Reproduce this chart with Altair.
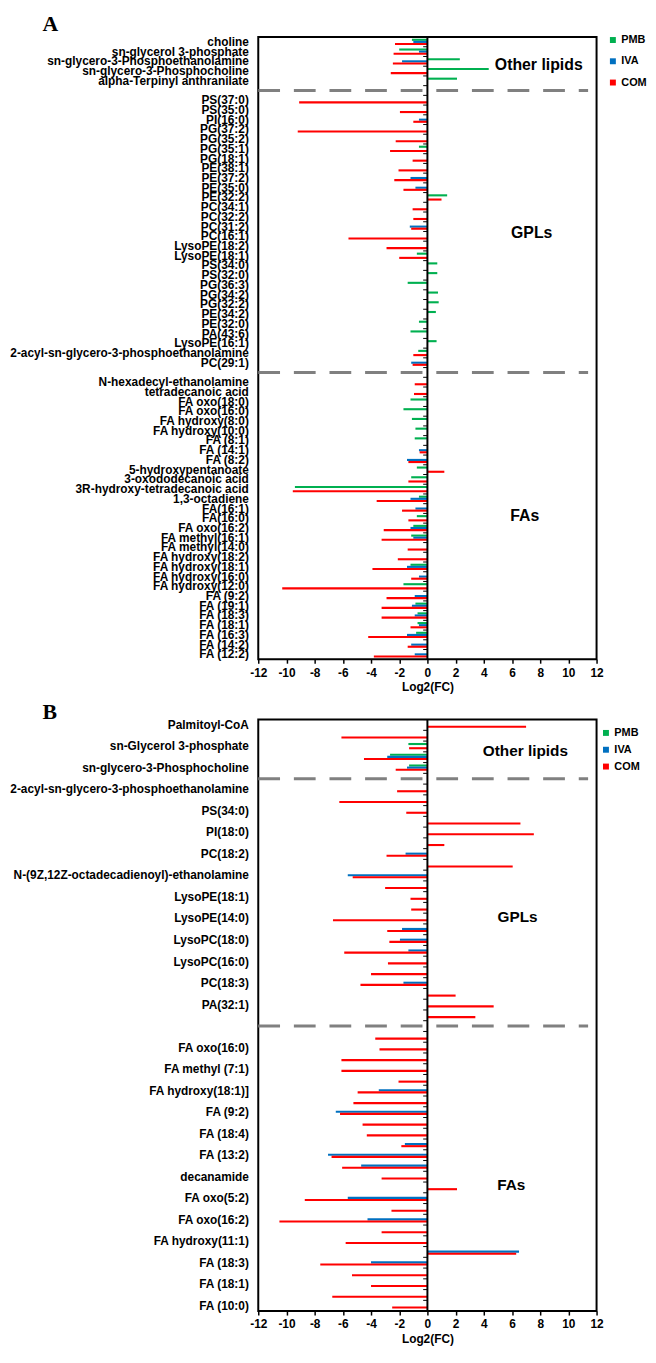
import altair as alt
import pandas as pd

SERIES = ["PMB", "IVA", "COM"]
COLORS = ["#00B050", "#0070C0", "#FF0000"]

# ---------------- Panel A ----------------
A_labels = [
    "choline", "sn-glycerol 3-phosphate", "sn-glycero-3-Phosphoethanolamine",
    "sn-glycero-3-Phosphocholine", "alpha-Terpinyl anthranilate",
    "",
    "PS(37:0)", "PS(35:0)", "PI(16:0)", "PG(37:2)", "PG(35:2)", "PG(35:1)", "PG(18:1)",
    "PE(38:1)", "PE(37:2)", "PE(35:0)", "PE(32:2)", "PC(34:1)", "PC(32:2)", "PC(31:2)",
    "PC(16:1)", "LysoPE(18:2)", "LysoPE(18:1)", "PS(34:0)", "PS(32:0)", "PG(36:3)",
    "PG(34:2)", "PG(32:2)", "PE(34:2)", "PE(32:0)", "PA(43:6)", "LysoPE(16:1)",
    "2-acyl-sn-glycero-3-phosphoethanolamine", "PC(29:1)",
    "",
    "N-hexadecyl-ethanolamine", "tetradecanoic acid", "FA oxo(18:0)", "FA oxo(16:0)",
    "FA hydroxy(8:0)", "FA hydroxy(10:0)", "FA (8:1)", "FA (14:1)", "FA (8:2)",
    "5-hydroxypentanoate", "3-oxododecanoic acid", "3R-hydroxy-tetradecanoic acid",
    "1,3-octadiene", "FA(16:1)", "FA(16:0)", "FA oxo(16:2)", "FA methyl(16:1)",
    "FA methyl(14:0)", "FA hydroxy(18:2)", "FA hydroxy(18:1)", "FA hydroxy(16:0)",
    "FA hydroxy(12:0)", "FA (9:2)", "FA (19:1)", "FA (18:3)", "FA (18:1)", "FA (16:3)",
    "FA (14:2)", "FA (12:2)",
]
A_PMB = [
    -1.1, -2.0, 2.3, 4.35, 2.1,
    0,
    0, 0, 0, 0, 0, -0.6, 0, 0, 0, 0, 1.4, 0, 0, 0, 0, 0, -0.75, 0.7, 0.7, -1.4,
    0.75, 0.8, 0.6, -0.6, -1.2, 0.65, -0.65, 0,
    0,
    0, 0, -1.2, -1.7, -1.1, -0.85, -0.9, 0, 0, -0.75, -1.15, -9.4, -0.6, 0, -0.75,
    -1.0, -1.15, 0, 0, -1.2, 0, -1.7, 0, -0.85, -0.7, -0.7, -0.8, 0, 0,
]
A_IVA = [
    -1.0, -0.6, -1.8, 0, 0,
    0,
    0, 0, -0.6, 0, 0, 0, 0, 0, -1.2, -0.85, 0, 0, 0, -1.25, 0, 0, 0, 0, 0, 0,
    0, 0, 0, 0, 0, 0, 0, -1.15,
    0,
    0, 0, 0, 0, 0, 0, 0, -0.6, -1.45, 0, 0, 0, -1.2, -0.85, 0,
    -1.2, -1.0, 0, 0, -1.45, -0.6, 0, -0.9, -1.1, -0.9, -0.6, -1.45, -1.15, -0.9,
]
A_COM = [
    -2.3, -2.4, -2.45, -2.6, 0,
    0,
    -9.1, -1.95, -1.0, -9.2, -2.25, -2.65, -1.05, -2.05, -2.35, -1.7, 1.0, -1.05,
    -1.0, -1.15, -5.6, -2.9, -2.0, 0, 0, 0, 0, 0, 0, 0, 0, 0, -1.0, -1.05,
    0,
    -0.9, -0.95, 0, 0, 0, 0, 0, -0.55, -1.35, 1.2, -1.35, -9.55, -3.6, -1.8, -1.35,
    -3.1, -3.25, -1.4, -2.1, -3.9, -1.15, -10.3, -2.9, -3.25, -3.25, -1.2, -4.2, -1.4, -3.8,
]
A_SEPARATORS = [5, 34]
A_SECTIONS = ["Other lipids", "GPLs", "FAs"]

# ---------------- Panel B ----------------
B_labels = [
    "Palmitoyl-CoA", "", "sn-Glycerol 3-phosphate", "", "sn-glycero-3-Phosphocholine",
    "",
    "2-acyl-sn-glycero-3-phosphoethanolamine", "", "PS(34:0)", "", "PI(18:0)", "",
    "PC(18:2)", "", "N-(9Z,12Z-octadecadienoyl)-ethanolamine", "", "LysoPE(18:1)", "",
    "LysoPE(14:0)", "", "LysoPC(18:0)", "", "LysoPC(16:0)", "", "PC(18:3)", "",
    "PA(32:1)", "",
    "",
    "", "FA oxo(16:0)", "", "FA methyl (7:1)", "", "FA hydroxy(18:1)]", "", "FA (9:2)",
    "", "FA (18:4)", "", "FA (13:2)", "", "decanamide", "", "FA oxo(5:2)", "",
    "FA oxo(16:2)", "", "FA hydroxy(11:1)", "", "FA (18:3)", "", "FA (18:1)", "",
    "FA (10:0)",
]
B_PMB = [0, 0, -1.35, -2.65, -1.3] + [0] * 50
B_IVA = [
    0, 0, 0, -2.85, -1.45,
    0,
    0, 0, 0, 0, 0, 0, -1.55, 0, -5.65, 0, 0, 0, 0, -1.8, -1.95, -1.35, 0, 0, -1.7, 0, 0, 0,
    0,
    0, 0, 0, 0, 0, -3.45, 0, -6.5, 0, 0, -1.6, -7.05, -4.7, 0, 0, -5.65, 0, -4.25, 0, 0,
    6.5, -4.0, 0, 0, 0, 0,
]
B_COM = [
    7.0, -6.1, -1.3, -4.5, -2.25,
    0,
    -2.15, -6.25, -1.5, 6.6, 7.55, 1.2, -2.9, 6.05, -5.3, -3.0, -1.2, -1.15, -6.7,
    -2.85, -2.7, -5.9, -2.8, -4.0, -4.75, 2.0, 4.7, 3.4,
    0,
    -3.7, -3.4, -6.1, -6.1, -2.05, -4.95, -5.25, -6.2, -4.6, -4.3, -1.85, -6.8, -6.05,
    -3.25, 2.1, -8.7, -2.55, -10.5, -3.25, -5.8, 6.3, -7.6, -5.35, -4.0, -6.75, -2.5,
]
B_SEPARATORS = [5, 28]
B_SECTIONS = ["Other lipids", "GPLs", "FAs"]

X_TICKS = list(range(-12, 13, 2))

FONT = "Liberation Sans"
PAD_IN = 0.35


def panel(letter, labels, pmb, iva, com, seps, sections, sec_rows, sec_x, sec_dy,
          height, legend_x, legend_y, legend_rowpad, letter_y, sec_size):
    keys = [f"{i:02d}|{lab}" for i, lab in enumerate(labels)]
    step = height / len(keys)
    rows = []
    for i, k in enumerate(keys):
        for s, vals in zip(SERIES, (pmb, iva, com)):
            if vals[i] != 0:
                rows.append({"key": k, "series": s, "value": vals[i]})
    df = pd.DataFrame(rows)

    yscale = alt.Scale(domain=keys, paddingInner=PAD_IN, paddingOuter=PAD_IN / 2)
    xscale = alt.Scale(domain=[-12, 12], nice=False, zero=False)
    yaxis = alt.Axis(title=None, ticks=False, domain=False, labelExpr="split(datum.label, '|')[1]",
                     labelFont=FONT, labelFontSize=12, labelFontWeight="bold", labelColor="black",
                     labelPadding=10, labelLimit=400)
    xaxis = alt.Axis(values=X_TICKS, labelExpr="'' + datum.value", title="Log2(FC)",
                     labelOverlap=False, labelFlush=False, labelSeparation=0,
                     grid=False, domain=False, ticks=True, tickColor="black", tickSize=4,
                     tickWidth=1.5, labelFont=FONT, labelFontSize=12, labelFontWeight="bold",
                     labelColor="black", labelPadding=4, titleFont=FONT, titleFontSize=12,
                     titleFontWeight="bold", titleColor="black", titlePadding=4)

    bars = alt.Chart(df).mark_bar().encode(
        y=alt.Y("key:N", scale=yscale, axis=yaxis),
        yOffset=alt.YOffset("series:N", scale=alt.Scale(domain=SERIES, paddingInner=0, paddingOuter=0)),
        x=alt.X("value:Q", scale=xscale, axis=xaxis),
        color=alt.Color("series:N", scale=alt.Scale(domain=SERIES, range=COLORS),
                        legend=alt.Legend(title=None, orient="none", legendX=legend_x,
                                          legendY=legend_y, direction="vertical",
                                          symbolType="square", symbolSize=36,
                                          symbolStrokeWidth=0, labelFont=FONT,
                                          labelFontSize=11, labelFontWeight="bold",
                                          labelColor="black", labelOffset=3,
                                          rowPadding=legend_rowpad, padding=0)),
    )

    keydf = pd.DataFrame({"key": keys})
    zero = alt.Chart(pd.DataFrame({"z": [0]})).mark_rule(color="black", strokeWidth=2).encode(
        x=alt.X("z:Q", scale=xscale, axis=xaxis)
    )
    ticks = alt.Chart(keydf.assign(x0=0.0, x1=-0.3)).mark_rule(
        color="black", strokeWidth=1, yOffset=-step * PAD_IN / 2).encode(
        y=alt.Y("key:N", scale=yscale, axis=yaxis, bandPosition=0),
        x=alt.X("x0:Q", scale=xscale, axis=xaxis),
        x2="x1:Q",
    )
    sepdf = pd.DataFrame({"key": [keys[i] for i in seps], "x0": -12.0, "x1": 11.4})
    sep = alt.Chart(sepdf).mark_rule(color="#808080", strokeWidth=3, strokeDash=[22, 14]).encode(
        y=alt.Y("key:N", scale=yscale, axis=yaxis),
        x=alt.X("x0:Q", scale=xscale, axis=xaxis),
        x2="x1:Q",
    )
    layers = [bars, zero, ticks, sep]
    for name, r, xv, dy in zip(sections, sec_rows, sec_x, sec_dy):
        tdf = pd.DataFrame({"key": [keys[r]], "x": [xv], "t": [name]})
        layers.append(
            alt.Chart(tdf).mark_text(font=FONT, fontSize=sec_size, fontWeight="bold",
                                     color="black", dy=dy).encode(
                y=alt.Y("key:N", scale=yscale, axis=yaxis),
                x=alt.X("x:Q", scale=xscale, axis=xaxis),
                text="t:N",
            )
        )
    lt = alt.Chart(pd.DataFrame({"t": [letter]})).mark_text(
        font="Liberation Serif", fontSize=22, fontWeight="bold", color="black",
        align="left", baseline="alphabetic").encode(
        x=alt.value(-218), y=alt.value(letter_y), text="t:N")
    layers.append(lt)
    return alt.layer(*layers).properties(width=342, height=height)


chart_a = panel("A", A_labels, A_PMB, A_IVA, A_COM, A_SEPARATORS, A_SECTIONS,
                [2, 20, 49], [7.9, 7.4, 6.9], [4, -3.5, -2.6],
                629, 353, -2.5, 9.5, -6, 16)
chart_b = panel("B", B_labels, B_PMB, B_IVA, B_COM, B_SEPARATORS, B_SECTIONS,
                [2, 18, 43], [6.95, 6.4, 5.95], [4.7, -1.8, -2.6],
                598, 346, 8, 5, -1, 15.5)

chart = alt.vconcat(chart_a, chart_b, spacing=6).resolve_scale(
    x="independent", y="independent", color="independent"
).resolve_legend(color="independent").configure_view(
    stroke="black", strokeWidth=2
).configure_axisX(
    labelOverlap=False, labelSeparation=0
).properties(
    padding={"left": 0, "top": -3, "right": 0, "bottom": 0}
)

chart.save("out.html", embed_options={"renderer": "svg", "actions": False})
